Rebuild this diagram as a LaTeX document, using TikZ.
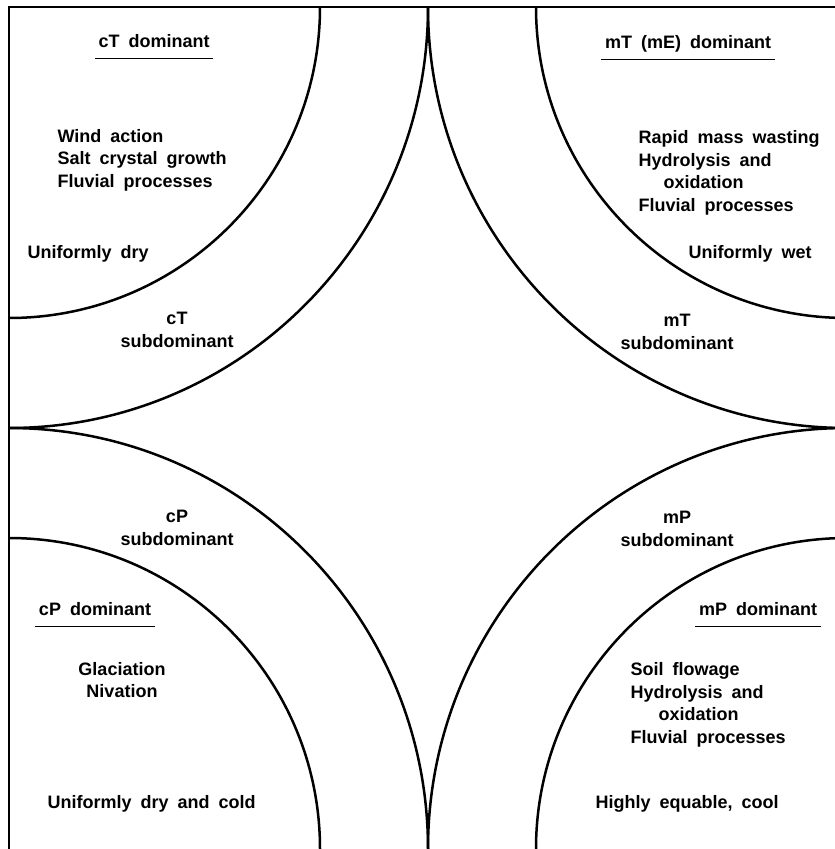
\documentclass[tikz,border=0pt]{standalone}
\usepackage{fontspec}
\setmainfont{Liberation Sans}
\usetikzlibrary{calc}

\newcommand{\lblfont}{\fontsize{18}{22.6}\selectfont\bfseries\spaceskip=0.5em plus 0.1em\relax}

\tikzset{
  zone/.style={line width=2.5pt},
  rule/.style={line width=1.4pt},
  lbl/.style={font=\lblfont},
  head/.style={lbl,text height=13.5pt,text depth=4pt},
}

\begin{document}
\begin{tikzpicture}[x=1pt,y=1pt,yscale=-1,xscale=1]
        \clip (0,0) rectangle (835,849);
        
        \begin{scope}
        \clip (9,7) rectangle (847,851);
        %Shape: Circle [outer and inner arc at each corner]
        \foreach \cx/\cy in {9/7,847/7,9/849,847/849}{
          \draw [zone] (\cx,\cy) ellipse [x radius=419, y radius=421];
          \draw [zone] (\cx,\cy) circle [radius=311];
        }
        \end{scope}
        %Shape: Frame [left and top sides]
        \draw [zone] (9,851) -- (9,7) -- (847,7);
        
        % Text Node
        \draw (154,43) node (ctdom) [head] {cT dominant};
        \draw [rule] ($(ctdom.south west)+(0,3.5)$) -- ($(ctdom.south east)+(0,3.5)$);
        % Text Node
        \draw (54,160) node (ctproc) [lbl,anchor=west,align=left] {Wind action\\Salt crystal growth\\Fluvial processes};
        % Text Node
        \draw (24,254) node (ctclim) [lbl,anchor=west] {Uniformly dry};
        % Text Node
        \draw (177,330) node (ctsub) [lbl,align=center] {cT\\subdominant};
        
        % Text Node
        \draw (688,44) node (mtdom) [head] {mT (mE) dominant};
        \draw [rule] ($(mtdom.south west)+(0,3.5)$) -- ($(mtdom.south east)+(0,3.5)$);
        % Text Node
        \draw (635,173) node (mtproc) [lbl,anchor=west,align=left] {Rapid mass wasting\\Hydrolysis and\\\hspace*{25pt}oxidation\\Fluvial processes};
        % Text Node
        \draw (685,254) node (mtclim) [lbl,anchor=west] {Uniformly wet};
        % Text Node
        \draw (677,332) node (mtsub) [lbl,align=center] {mT\\subdominant};
        
        % Text Node
        \draw (177,528) node (cpsub) [lbl,align=center] {cP\\subdominant};
        % Text Node
        \draw (95,611) node (cpdom) [head] {cP dominant};
        \draw [rule] ($(cpdom.south west)+(0,3.5)$) -- ($(cpdom.south east)+(0,3.5)$);
        % Text Node
        \draw (122,680) node (cpproc) [lbl,align=center] {Glaciation\\Nivation};
        % Text Node
        \draw (44,804) node (cpclim) [lbl,anchor=west] {Uniformly dry and cold};
        
        % Text Node
        \draw (677,529) node (mpsub) [lbl,align=center] {mP\\subdominant};
        % Text Node
        \draw (758,611) node (mpdom) [head] {mP dominant};
        \draw [rule] ($(mpdom.south west)+(0,3.5)$) -- ($(mpdom.south east)+(0,3.5)$);
        % Text Node
        \draw (627,705) node (mpproc) [lbl,anchor=west,align=left] {Soil flowage\\Hydrolysis and\\\hspace*{28pt}oxidation\\Fluvial processes};
        % Text Node
        \draw (592,804) node (mpclim) [lbl,anchor=west] {Highly equable, cool};
        
\end{tikzpicture}
\end{document}
